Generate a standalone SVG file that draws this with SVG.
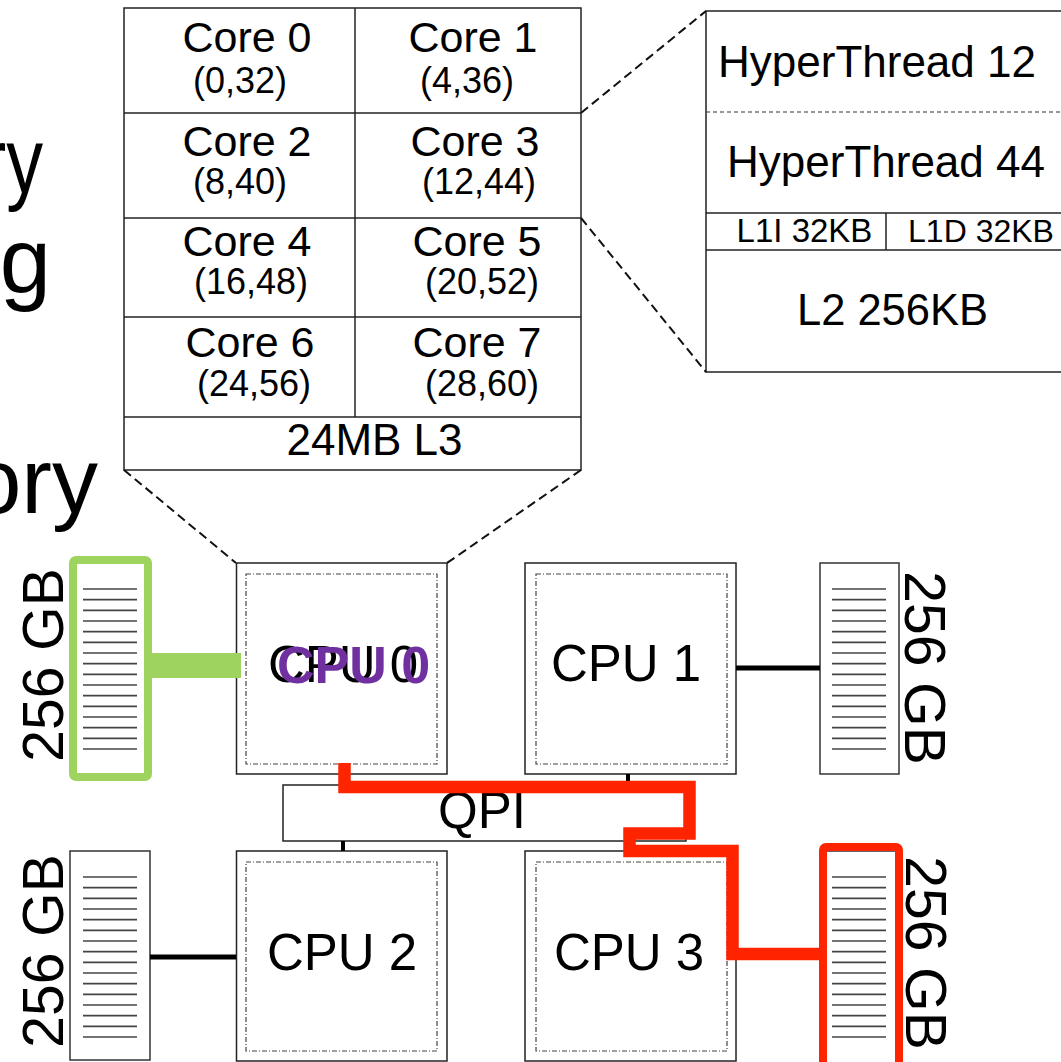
<svg xmlns="http://www.w3.org/2000/svg" xmlns:xlink="http://www.w3.org/1999/xlink" width="1061" height="1062" viewBox="0 0 1061 1062">
<style>
text{font-family:"Liberation Sans",Arial,sans-serif;fill:#000}
.box{fill:#fff;stroke:#222;stroke-width:1.5}
.thin{fill:none;stroke:#222;stroke-width:1.5}
.inner{fill:none;stroke:#444;stroke-width:1.2;stroke-dasharray:5 2 1 2}
.zoomline{fill:none;stroke:#111;stroke-width:2;stroke-dasharray:9 5}
.core{font-size:43px;text-anchor:middle}
.ids{font-size:36px;text-anchor:middle}
.cpu{font-size:51px;text-anchor:middle}
.gb{font-size:57px;text-anchor:middle}
.ht{font-size:44px;text-anchor:middle}
.mod{fill:#fff;stroke:#333;stroke-width:1.5}
.ramline{stroke:#444;stroke-width:1.6}
.link{stroke:#000;stroke-width:5}
.stub{stroke:#000;stroke-width:4}
</style>
<defs>
<g id="ram">
<line class="ramline" x1="0" x2="54" y1="0" y2="0"/>
<line class="ramline" x1="0" x2="54" y1="10.67" y2="10.67"/>
<line class="ramline" x1="0" x2="54" y1="21.33" y2="21.33"/>
<line class="ramline" x1="0" x2="54" y1="32" y2="32"/>
<line class="ramline" x1="0" x2="54" y1="42.67" y2="42.67"/>
<line class="ramline" x1="0" x2="54" y1="53.33" y2="53.33"/>
<line class="ramline" x1="0" x2="54" y1="64" y2="64"/>
<line class="ramline" x1="0" x2="54" y1="74.67" y2="74.67"/>
<line class="ramline" x1="0" x2="54" y1="85.33" y2="85.33"/>
<line class="ramline" x1="0" x2="54" y1="96" y2="96"/>
<line class="ramline" x1="0" x2="54" y1="106.67" y2="106.67"/>
<line class="ramline" x1="0" x2="54" y1="117.33" y2="117.33"/>
<line class="ramline" x1="0" x2="54" y1="128" y2="128"/>
<line class="ramline" x1="0" x2="54" y1="138.67" y2="138.67"/>
<line class="ramline" x1="0" x2="54" y1="149.33" y2="149.33"/>
<line class="ramline" x1="0" x2="54" y1="160" y2="160"/>
</g>
</defs>
<rect width="1061" height="1062" fill="#fff"/>

<!-- cut-off title text at left -->
<g id="left-text">
<text transform="translate(43,193) scale(0.8,1)" style="font-size:92px;text-anchor:end">ry</text>
<text x="51" y="293" style="font-size:92px;text-anchor:end">g</text>
<text x="98" y="513" style="font-size:92px;text-anchor:end">ory</text>
</g>

<!-- core grid -->
<g id="core-grid">
<rect class="box" x="124" y="8" width="457" height="462"/>
<line class="thin" x1="124" y1="113" x2="581" y2="113"/>
<line class="thin" x1="124" y1="218" x2="581" y2="218"/>
<line class="thin" x1="124" y1="317" x2="581" y2="317"/>
<line class="thin" x1="124" y1="417" x2="581" y2="417"/>
<line class="thin" x1="355" y1="8" x2="355" y2="417"/>
<text class="core" x="247" y="52">Core 0</text>
<text class="ids" x="240" y="93">(0,32)</text>
<text class="core" x="473" y="52">Core 1</text>
<text class="ids" x="467" y="93">(4,36)</text>
<text class="core" x="247" y="156">Core 2</text>
<text class="ids" x="240" y="194">(8,40)</text>
<text class="core" x="475" y="156">Core 3</text>
<text class="ids" x="479" y="194">(12,44)</text>
<text class="core" x="247" y="256">Core 4</text>
<text class="ids" x="251" y="294">(16,48)</text>
<text class="core" x="477" y="256">Core 5</text>
<text class="ids" x="482" y="294">(20,52)</text>
<text class="core" x="250" y="357">Core 6</text>
<text class="ids" x="254" y="396">(24,56)</text>
<text class="core" x="477" y="357">Core 7</text>
<text class="ids" x="482" y="396">(28,60)</text>
<text x="374.5" y="455" style="font-size:44px;text-anchor:middle">24MB L3</text>
</g>

<!-- core detail -->
<g id="core-detail">
<rect class="box" x="706" y="11" width="370" height="361"/>
<line x1="706" y1="112" x2="1061" y2="112" stroke="#333" stroke-width="1.2" stroke-dasharray="4 3"/>
<line class="thin" x1="706" y1="213" x2="1061" y2="213"/>
<line class="thin" x1="706" y1="250" x2="1061" y2="250"/>
<line class="thin" x1="886" y1="213" x2="886" y2="250"/>
<text class="ht" x="877" y="77">HyperThread 12</text>
<text class="ht" x="886" y="177">HyperThread 44</text>
<text x="804.5" y="242" style="font-size:33px;text-anchor:middle">L1I 32KB</text>
<text x="981" y="242" style="font-size:32px;text-anchor:middle">L1D 32KB</text>
<text x="892.5" y="325" style="font-size:43.5px;text-anchor:middle">L2 256KB</text>
</g>

<!-- memory modules -->
<g id="mem0">
<rect class="mod" x="71" y="563" width="79" height="211"/>
<use xlink:href="#ram" x="83" y="589"/>
<text class="gb" transform="translate(63,665) rotate(-90)">256 GB</text>
</g>
<g id="mem1">
<rect class="mod" x="820" y="563" width="79" height="211"/>
<use xlink:href="#ram" x="832" y="589"/>
<text class="gb" transform="translate(905,668) rotate(90)">256 GB</text>
</g>
<g id="mem2">
<rect class="mod" x="70" y="851" width="80" height="209"/>
<use xlink:href="#ram" x="83" y="877"/>
<text class="gb" transform="translate(63,951) rotate(-90)">256 GB</text>
</g>
<g id="mem3">
<rect class="mod" x="820" y="851" width="79" height="215"/>
<use xlink:href="#ram" x="832" y="877"/>
<text class="gb" transform="translate(906,953) rotate(90)">256 GB</text>
</g>

<!-- CPUs -->
<g id="cpu0">
<rect class="box" x="236.5" y="563" width="210.5" height="211"/>
<rect class="inner" x="246" y="574" width="191" height="190"/>
<text class="cpu" x="343" y="682">CPU 0</text>
</g>
<g id="cpu1">
<rect class="box" x="525" y="563" width="211" height="211"/>
<rect class="inner" x="536" y="574" width="191" height="190"/>
<text class="cpu" x="626" y="681">CPU 1</text>
</g>
<g id="cpu2">
<rect class="box" x="236.5" y="851" width="210.5" height="210"/>
<rect class="inner" x="246" y="862" width="191" height="189"/>
<text class="cpu" x="342" y="970">CPU 2</text>
</g>
<g id="cpu3">
<rect class="box" x="525" y="851" width="211" height="210"/>
<rect class="inner" x="536" y="862" width="191" height="189"/>
<text class="cpu" x="629" y="970">CPU 3</text>
</g>

<g id="qpi">
<rect class="box" x="283" y="785" width="403" height="56" stroke-width="2"/>
<text class="cpu" x="482" y="828">QPI</text>
</g>

<!-- connectors -->
<g id="connectors">
<line class="zoomline" x1="124" y1="470" x2="236" y2="563"/>
<line class="zoomline" x1="581" y1="470" x2="447" y2="563"/>
<line class="zoomline" x1="581" y1="113" x2="706" y2="11"/>
<line class="zoomline" x1="581" y1="218" x2="706" y2="372"/>
<line class="link" x1="736" y1="668" x2="820" y2="668"/>
<line class="link" x1="150" y1="957" x2="236" y2="957" stroke-width="4"/>
<line class="stub" x1="343" y1="774" x2="343" y2="785"/>
<line class="stub" x1="343" y1="841" x2="343" y2="851"/>
<line class="stub" x1="628" y1="774" x2="628" y2="785"/>
<line class="stub" x1="628" y1="841" x2="628" y2="851"/>
<!-- green highlight of CPU0 memory path -->
<rect x="152" y="653" width="89" height="25" fill="#9ED35F"/>
<rect x="73" y="560" width="75" height="217" rx="3" fill="none" stroke="#9ED35F" stroke-width="8"/>
<!-- red remote path -->
<path d="M344.5,763 V787 H689.5 V833.5 H629.5 V851 H732.5 V954 H823" fill="none" stroke="#FF2400" stroke-width="12.5" stroke-linejoin="miter"/>
<rect x="823" y="847" width="76" height="230" rx="3" fill="none" stroke="#FF2400" stroke-width="8"/>
</g>

<g id="cpu0-label">
<text x="353.5" y="683" style="font-size:52px;font-weight:bold;text-anchor:middle;fill:#7030A0">CPU 0</text>
</g>
</svg>
